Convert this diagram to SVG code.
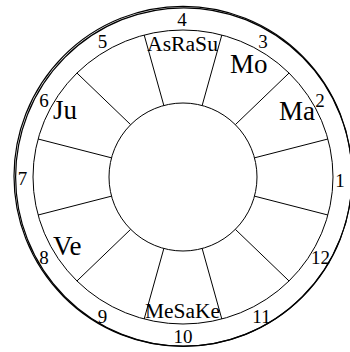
<svg xmlns="http://www.w3.org/2000/svg" width="350" height="352" viewBox="0 0 350 352">
<style>
.ring{fill:none;stroke:#000;stroke-width:1}
.outer{fill:none;stroke:#000;stroke-width:1.2}
.spoke{stroke:#000;stroke-width:1}
.num{font-family:"Liberation Serif",serif;font-size:19px;text-anchor:middle;fill:#000}
.pl{font-family:"Liberation Serif",serif;font-size:27px;fill:#000}
.pls{font-family:"Liberation Serif",serif;font-size:20px;fill:#000}
</style>
<rect width="350" height="352" fill="#fff"/>
<g id="rings">
<ellipse class="outer" cx="183" cy="176.3" rx="169" ry="170"/>
<ellipse class="outer" cx="183.8" cy="177" rx="168.2" ry="169.2"/>
<ellipse class="ring" cx="183" cy="177" rx="150" ry="147"/>
<ellipse class="ring" cx="183" cy="177" rx="74" ry="74"/>
</g>
<g id="connectors">
<line class="spoke" x1="202.15" y1="105.52" x2="221.82" y2="35.0"/>
<line class="spoke" x1="235.33" y1="124.67" x2="289.07" y2="73.0"/>
<line class="spoke" x1="254.48" y1="157.85" x2="327.89" y2="139.0"/>
<line class="spoke" x1="254.48" y1="196.15" x2="327.89" y2="215.0"/>
<line class="spoke" x1="235.33" y1="229.33" x2="289.07" y2="281.0"/>
<line class="spoke" x1="202.15" y1="248.48" x2="221.82" y2="319.0"/>
<line class="spoke" x1="163.85" y1="248.48" x2="144.18" y2="319.0"/>
<line class="spoke" x1="130.67" y1="229.33" x2="76.93" y2="281.0"/>
<line class="spoke" x1="111.52" y1="196.15" x2="38.11" y2="215.0"/>
<line class="spoke" x1="111.52" y1="157.85" x2="38.11" y2="139.0"/>
<line class="spoke" x1="130.67" y1="124.67" x2="76.93" y2="73.0"/>
<line class="spoke" x1="163.85" y1="105.52" x2="144.18" y2="35.0"/>
</g>
<g id="house1"><text class="num" x="340" y="187">1</text></g>
<g id="house2"><text class="num" x="320" y="107">2</text><text class="pl" x="279" y="120">Ma</text></g>
<g id="house3"><text class="num" x="263" y="48">3</text><text class="pl" x="230" y="73">Mo</text></g>
<g id="house4"><text class="num" x="182" y="26">4</text><text class="pls" x="147" y="51" textLength="71" lengthAdjust="spacingAndGlyphs">AsRaSu</text></g>
<g id="house5"><text class="num" x="102.5" y="48">5</text></g>
<g id="house6"><text class="num" x="44" y="107">6</text><text class="pl" x="53" y="119">Ju</text></g>
<g id="house7"><text class="num" x="22.5" y="185">7</text></g>
<g id="house8"><text class="num" x="44" y="264">8</text><text class="pl" x="53" y="255">Ve</text></g>
<g id="house9"><text class="num" x="102.5" y="323">9</text></g>
<g id="house10"><text class="num" x="183" y="343">10</text><text class="pls" x="145" y="318" textLength="75" lengthAdjust="spacingAndGlyphs">MeSaKe</text></g>
<g id="house11"><text class="num" x="261.5" y="323">11</text></g>
<g id="house12"><text class="num" x="320.5" y="264">12</text></g>
</svg>
